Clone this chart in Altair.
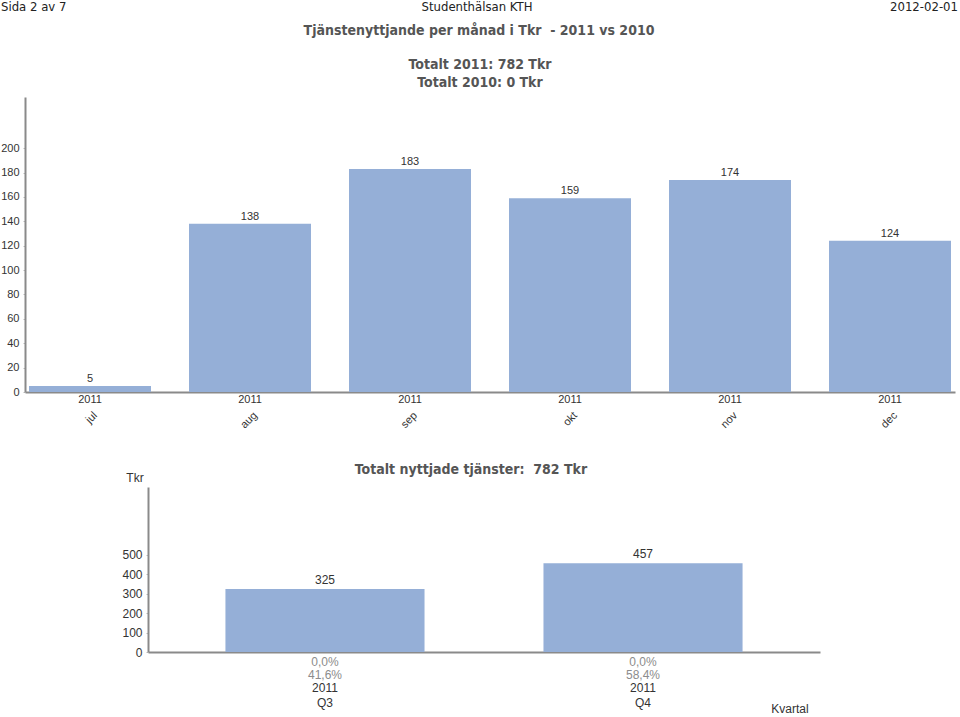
import altair as alt
import pandas as pd

# ---- data ----
months = ["jul", "aug", "sep", "okt", "nov", "dec"]
values_2011 = [5, 138, 183, 159, 174, 124]
month_year = ["2011", "2011", "2011", "2011", "2011", "2011"]

quarters = ["Q3", "Q4"]
quarter_values = [325, 457]
quarter_year = ["2011", "2011"]
pct_2010 = ["0,0%", "0,0%"]
pct_2011 = ["41,6%", "58,4%"]

top_ticks = [0, 20, 40, 60, 80, 100, 120, 140, 160, 180, 200]
bottom_ticks = [0, 100, 200, 300, 400, 500]

header_left = ["Sida 2 av 7"]
header_center = ["Studenthälsan KTH"]
header_right = ["2012-02-01"]
title_lines = ["Tjänstenyttjande per månad i Tkr \u00a0- 2011 vs 2010"]
total_2011 = ["Totalt 2011: 782 Tkr"]
total_2010 = ["Totalt 2010: 0 Tkr"]
bottom_title = ["Totalt nyttjade tjänster: \u00a0782 Tkr"]
bottom_ytitle = ["Tkr"]
bottom_xtitle = ["Kvartal"]

BAR = "#95AFD7"
AXIS = "#8A8A8A"
DARK = "#333333"
GREYTXT = "#8C8C8C"
TITLE = "#555555"
FONT = "Liberation Sans"
NARROW = "Liberation Sans Narrow, DejaVu Sans Condensed, Liberation Sans"
BOLD = "DejaVu Sans Condensed, Liberation Sans"

top_df = pd.DataFrame({"month": months, "value": values_2011, "year": month_year})
bot_df = pd.DataFrame({"quarter": quarters, "value": quarter_values, "year": quarter_year,
                       "p2010": pct_2010, "p2011": pct_2011})

# ---- top chart ----
x_top = alt.X("month:N", sort=months,
              scale=alt.Scale(range=[25, 955], paddingInner=0.2375, paddingOuter=0.025),
              axis=alt.Axis(orient="bottom", offset=-325, labels=False, ticks=False, title=None,
                            domainColor=AXIS, domainWidth=2, grid=False))
y_top = alt.Y("value:Q",
              scale=alt.Scale(domain=[0, 242], range=[392, 97], nice=False, zero=True),
              axis=alt.Axis(orient="left", offset=-25, values=top_ticks, title=None, grid=False,
                            tickSize=2, tickColor="#BBBBBB", domainColor=AXIS, domainWidth=2,
                            labelFont=FONT, labelFontSize=11, labelColor=DARK, labelPadding=4))

base_top = alt.Chart(top_df)
top_bars = base_top.mark_bar(color=BAR).encode(x=x_top, y=y_top)
top_vals = base_top.mark_text(baseline="bottom", dy=-2, font=FONT, fontSize=11, color=DARK).encode(
    x=x_top, y=y_top, text="value:Q")
top_year = base_top.mark_text(baseline="middle", font=FONT, fontSize=11, color=DARK).encode(
    x=x_top, y=alt.value(400), text="year:N")
top_month = base_top.mark_text(angle=315, align="right", baseline="middle", dx=4, dy=4,
                               font=FONT, fontSize=11, color=DARK).encode(
    x=x_top, y=alt.value(414), text="month:N")
top_chart = alt.layer(top_bars, top_vals, top_year, top_month)

# ---- bottom chart ----
x_bot = alt.X("quarter:N", sort=quarters,
              scale=alt.Scale(range=[148, 820], paddingInner=0.374, paddingOuter=0.2435),
              axis=alt.Axis(orient="bottom", offset=-65, labels=False, ticks=False, title=None,
                            domainColor=AXIS, domainWidth=2, grid=False))
y_bot = alt.Y("value:Q",
              scale=alt.Scale(domain=[0, 850], range=[652, 487], nice=False, zero=True),
              axis=alt.Axis(orient="left", offset=-148, values=bottom_ticks, title=None, grid=False,
                            tickSize=2, tickColor="#BBBBBB", domainColor=AXIS, domainWidth=2,
                            labelFont=FONT, labelFontSize=12, labelColor=DARK, labelPadding=4))

base_bot = alt.Chart(bot_df)
bot_bars = base_bot.mark_bar(color=BAR).encode(x=x_bot, y=y_bot)
bot_vals = base_bot.mark_text(baseline="bottom", dy=-2, font=FONT, fontSize=12, color=DARK).encode(
    x=x_bot, y=y_bot, text="value:Q")
bot_p10 = base_bot.mark_text(baseline="middle", font=FONT, fontSize=12, color=GREYTXT).encode(
    x=x_bot, y=alt.value(662), text="p2010:N")
bot_p11 = base_bot.mark_text(baseline="middle", font=FONT, fontSize=12, color=GREYTXT).encode(
    x=x_bot, y=alt.value(675), text="p2011:N")
bot_year = base_bot.mark_text(baseline="middle", font=FONT, fontSize=12, color=DARK).encode(
    x=x_bot, y=alt.value(688), text="year:N")
bot_q = base_bot.mark_text(baseline="middle", font=FONT, fontSize=12, color=DARK).encode(
    x=x_bot, y=alt.value(703), text="quarter:N")
bot_chart = alt.layer(bot_bars, bot_vals, bot_p10, bot_p11, bot_year, bot_q)


# ---- free texts ----
def label(lines, x, y, size, color, font, align="center", weight="normal", baseline="middle"):
    return alt.Chart(pd.DataFrame({"t": lines})).mark_text(
        align=align, baseline=baseline, fontSize=size, color=color, font=font, fontWeight=weight
    ).encode(x=alt.value(x), y=alt.value(y), text="t:N")


texts = [
    label(header_left, 1, 1, 13, "#222222", NARROW, align="left", baseline="top"),
    label(header_center, 477, 1, 13, "#222222", NARROW, baseline="top"),
    label(header_right, 958, 1, 13, "#222222", NARROW, align="right", baseline="top"),
    label(title_lines, 479, 31, 14, TITLE, BOLD, weight="bold"),
    label(total_2011, 480, 65, 14, TITLE, BOLD, weight="bold"),
    label(total_2010, 480, 83, 14, TITLE, BOLD, weight="bold"),
    label(bottom_title, 471, 470, 14, TITLE, BOLD, weight="bold"),
    label(bottom_ytitle, 135, 478, 12, DARK, FONT),
    label(bottom_xtitle, 790, 709, 12, DARK, FONT),
]

chart = alt.layer(top_chart, bot_chart, *texts).resolve_scale(
    x="independent", y="independent"
).resolve_axis(x="independent", y="independent").properties(
    width=960, height=717, autosize="none", padding=0
).configure_view(stroke=None)

chart.save("out.html", embed_options={"renderer": "svg", "actions": False})
